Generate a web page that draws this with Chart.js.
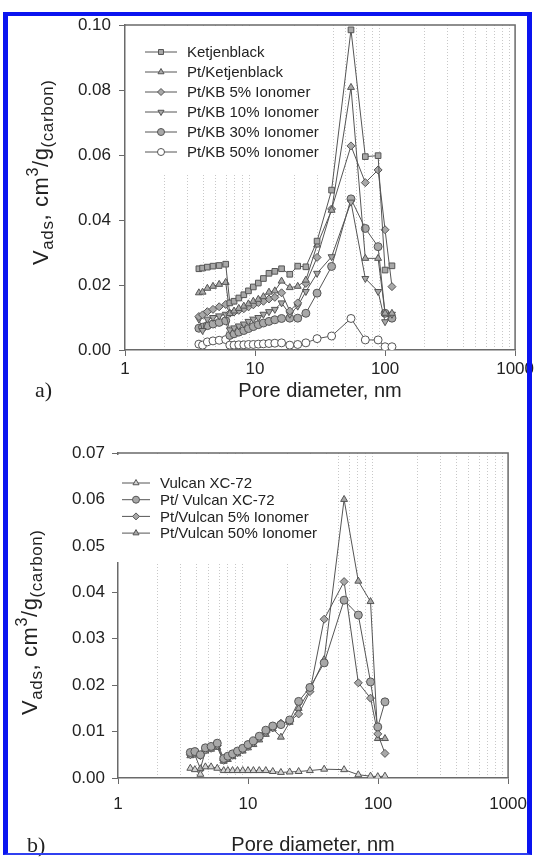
<!DOCTYPE html>
<html>
<head>
<meta charset="utf-8">
<script src="https://cdn.jsdelivr.net/npm/chart.js@4/dist/chart.umd.min.js"></script>
<style>
  html, body { margin: 0; padding: 0; background: #fff; }
  #page { position: relative; width: 537px; height: 857px; overflow: hidden; }
  #frame { position: absolute; left: 3px; top: 12px; width: 529px; height: 843px;
           border-left: 5px solid #0a14f0; border-top: 4px solid #0a14f0;
           border-right: 5px solid #0a14f0; border-bottom: 2px solid #3040f0;
           box-sizing: border-box; pointer-events: none; }
  canvas { position: absolute; left: 0; }
  #ca { top: 0; }
  #cb { top: 420px; }
  .tag { position: absolute; font: 22px "Liberation Serif", "DejaVu Serif", serif; color: #222; }
</style>
</head>
<body>
<div id="page">
  <canvas id="ca" width="537" height="420"></canvas>
  <canvas id="cb" width="537" height="437"></canvas>
  <div class="tag" style="left:35px; top:377px;">a)</div>
  <div class="tag" style="left:27px; top:832px;">b)</div>
  <div id="frame"></div>
</div>
<script>
// ---- chart a) Ketjenblack series ----
const poreA = [3.7, 3.95, 4.3, 4.75, 5.3, 5.95, 6.4, 6.9, 7.5, 8.2, 8.9, 9.7, 10.6, 11.6, 12.8, 14.2, 16.0, 18.5, 21.3, 24.6, 30.0, 38.8, 54.7, 70.5, 88.4, 100, 113];
const ketjen = [0.0250, 0.0252, 0.0255, 0.0258, 0.0260, 0.0264, 0.0145, 0.0150, 0.0160, 0.0170, 0.0182, 0.0194, 0.0206, 0.0220, 0.0236, 0.0242, 0.0250, 0.0233, 0.0258, 0.0256, 0.0335, 0.0492, 0.0985, 0.0595, 0.0598, 0.0246, 0.0259];
const ptKetjen = [0.0176, 0.0178, 0.0190, 0.0196, 0.0202, 0.0208, 0.0112, 0.0120, 0.0128, 0.0135, 0.0142, 0.0150, 0.0156, 0.0164, 0.0178, 0.0182, 0.0212, 0.0192, 0.0196, 0.0215, 0.0323, 0.0430, 0.0808, 0.0282, 0.0282, 0.0113, 0.0113];
const kb5 = [0.0103, 0.0108, 0.0118, 0.0125, 0.0133, 0.0140, 0.0113, 0.0117, 0.0122, 0.0127, 0.0133, 0.0139, 0.0146, 0.0150, 0.0157, 0.0162, 0.0176, 0.0120, 0.0145, 0.0205, 0.0285, 0.0434, 0.0628, 0.0515, 0.0554, 0.0370, 0.0195];
const kb10 = [0.0095, 0.0060, 0.0095, 0.0100, 0.0105, 0.0110, 0.0062, 0.0068, 0.0074, 0.0080, 0.0088, 0.0095, 0.0100, 0.0110, 0.0118, 0.0125, 0.0145, 0.0110, 0.0135, 0.0180, 0.0236, 0.0287, 0.0455, 0.0220, 0.0180, 0.0087, 0.0110];
const kb30 = [0.0067, 0.0070, 0.0075, 0.0080, 0.0085, 0.0090, 0.0045, 0.0050, 0.0055, 0.0060, 0.0066, 0.0072, 0.0078, 0.0083, 0.0088, 0.0093, 0.0097, 0.0098, 0.0098, 0.0113, 0.0175, 0.0257, 0.0465, 0.0374, 0.0318, 0.0113, 0.0098];
const kb50 = [0.0018, 0.0015, 0.0025, 0.0028, 0.0030, 0.0032, 0.0015, 0.0015, 0.0016, 0.0016, 0.0017, 0.0017, 0.0018, 0.0019, 0.0020, 0.0021, 0.0022, 0.0015, 0.0017, 0.0022, 0.0035, 0.0043, 0.0097, 0.0031, 0.0031, 0.0010, 0.0010];

// ---- chart b) Vulcan series ----
const poreB = [3.6, 3.9, 4.3, 4.7, 5.2, 5.8, 6.5, 7.0, 7.6, 8.3, 9.1, 10.0, 11.0, 12.2, 13.7, 15.5, 17.9, 20.9, 24.5, 29.9, 38.5, 54.8, 70.5, 87.5, 99.5, 113];
const vulcan = [0.0021, 0.0018, 0.0008, 0.0024, 0.0024, 0.0021, 0.0016, 0.0016, 0.0016, 0.0016, 0.0016, 0.0016, 0.0016, 0.0016, 0.0016, 0.0014, 0.0012, 0.0013, 0.0014, 0.0016, 0.0019, 0.0018, 0.0007, 0.0004, 0.0003, 0.0004];
const ptVulcan = [0.0055, 0.0057, 0.0050, 0.0065, 0.0068, 0.0075, 0.0042, 0.0047, 0.0052, 0.0058, 0.0064, 0.0072, 0.0080, 0.0090, 0.0103, 0.0112, 0.0115, 0.0125, 0.0165, 0.0195, 0.0248, 0.0383, 0.0351, 0.0207, 0.0110, 0.0164];
const vulcan5 = [0.0050, 0.0053, 0.0048, 0.0060, 0.0064, 0.0070, 0.0038, 0.0043, 0.0049, 0.0055, 0.0061, 0.0068, 0.0076, 0.0086, 0.0098, 0.0108, 0.0118, 0.0122, 0.0138, 0.0186, 0.0342, 0.0423, 0.0205, 0.0172, 0.0095, 0.0053];
const vulcan50 = [0.0048, 0.0050, 0.0020, 0.0058, 0.0062, 0.0066, 0.0036, 0.0040, 0.0046, 0.0052, 0.0058, 0.0065, 0.0072, 0.0082, 0.0094, 0.0106, 0.0088, 0.0120, 0.0150, 0.0190, 0.0255, 0.0600, 0.0424, 0.0380, 0.0085, 0.0085];

const xTicks = [1, 10, 100, 1000];

const FONT = '"Liberation Sans", Arial, Helvetica, sans-serif';
const LINE = "#555";
const AXIS = "#6a6a6a";
const GRIDC = "#c8c8c8";
const GRAY = "#a8a8a8";

function pts(xs, ys) { return xs.map((x, i) => ({ x, y: ys[i] })); }

function series(label, xs, ys, style, fill, rot) {
  return {
    label, data: pts(xs, ys),
    borderColor: LINE, borderWidth: 1, tension: 0,
    pointStyle: style, pointRotation: rot || 0, pointRadius: 4, pointHoverRadius: 4,
    pointBackgroundColor: fill, pointBorderColor: LINE, pointBorderWidth: 1,
    backgroundColor: fill,
  };
}

const isMajor = (v) => xTicks.includes(v);

// white legend box with "—marker—" samples, drawn over the grid
const legendBox = {
  id: "legendBox",
  afterDraw(chart, args, o) {
    const ctx = chart.ctx;
    ctx.save();
    ctx.fillStyle = "#fff";
    ctx.fillRect(o.box[0], o.box[1], o.box[2], o.box[3]);
    ctx.font = o.size + "px " + FONT;
    ctx.textBaseline = "middle";
    chart.data.datasets.forEach((ds, i) => {
      const y = o.y0 + i * o.dy;
      ctx.strokeStyle = LINE; ctx.lineWidth = 1;
      ctx.beginPath(); ctx.moveTo(o.x0, y); ctx.lineTo(o.x0 + o.len, y); ctx.stroke();
      ctx.fillStyle = ds.pointBackgroundColor;
      Chart.helpers.drawPoint(ctx, { pointStyle: ds.pointStyle, rotation: ds.pointRotation, radius: 3.5, borderWidth: 1 }, o.x0 + o.len / 2, y);
      ctx.fillStyle = "#222";
      ctx.fillText(ds.label, o.x0 + o.len + 10, y + 1);
    });
    ctx.restore();
  },
};

// top and right frame lines + rotated y title with sub/superscripts
const frameAndTitle = {
  id: "frameAndTitle",
  beforeDatasetsDraw(chart) {
    const { ctx, chartArea: a } = chart;
    ctx.save();
    ctx.strokeStyle = AXIS; ctx.lineWidth = 1.5;
    ctx.beginPath(); ctx.moveTo(a.left, a.top); ctx.lineTo(a.right, a.top); ctx.lineTo(a.right, a.bottom); ctx.stroke();
    ctx.restore();
  },
  afterDraw(chart, args, o) {
    const ctx = chart.ctx;
    const parts = [["V", 22, 0], ["ads", 17, 5], [", cm", 22, 0], ["3", 16, -10], ["/g", 22, 0], ["(carbon)", 17, 5]];
    ctx.save();
    ctx.translate(o.x, o.y);
    ctx.rotate(-Math.PI / 2);
    ctx.fillStyle = "#222";
    ctx.textBaseline = "alphabetic";
    if ("letterSpacing" in ctx) ctx.letterSpacing = "0.6px";
    let x = 0;
    for (const [t, s, dy] of parts) {
      ctx.font = s + "px " + FONT;
      ctx.fillText(t, x, dy);
      x += ctx.measureText(t).width;
    }
    ctx.restore();
  },
};

function makeChart(canvas, datasets, cfg) {
  return new Chart(canvas, {
    type: "line",
    data: { datasets },
    plugins: [frameAndTitle, legendBox],
    options: {
      responsive: false, animation: false, events: [],
      layout: { padding: { top: cfg.top, right: cfg.right, left: 0, bottom: 0 } },
      plugins: {
        legend: { display: false }, tooltip: { enabled: false },
        legendBox: cfg.legend,
        frameAndTitle: cfg.title,
      },
      scales: {
        x: {
          type: "logarithmic", min: 1, max: 1000,
          afterFit: (s) => { s.height = cfg.xh; },
          afterBuildTicks: (s) => {
            const t = [];
            for (let d = 1; d <= 100; d *= 10) for (let k = 1; k < 10; k++) t.push({ value: d * k });
            t.push({ value: 1000 });
            s.ticks = t;
          },
          ticks: {
            autoSkip: false, maxRotation: 0, color: "#222", padding: cfg.xpad,
            font: { family: FONT, size: 17 },
            callback: (v) => (isMajor(v) ? String(v) : ""),
          },
          grid: {
            drawOnChartArea: true, tickLength: 6, lineWidth: 1,
            color: (c) => (c.tick && isMajor(c.tick.value) ? "rgba(0,0,0,0)" : GRIDC),
            tickColor: (c) => (c.tick && isMajor(c.tick.value) ? AXIS : "rgba(0,0,0,0)"),
          },
          border: { display: true, color: AXIS, width: 1.5, dash: [1, 2] },
          title: { display: true, text: "Pore diameter, nm", color: "#222", font: { family: FONT, size: 20 }, padding: { top: 0, bottom: cfg.tpad } },
        },
        y: {
          min: 0, max: cfg.ymax,
          afterFit: (s) => { s.width = cfg.yw; },
          ticks: {
            stepSize: cfg.ystep, color: "#222", padding: cfg.ypad,
            font: { family: FONT, size: 17 },
            callback: (v) => v.toFixed(2),
          },
          grid: { drawOnChartArea: false, tickLength: 6, tickColor: AXIS },
          border: { display: true, color: AXIS, width: 1.5 },
        },
      },
    },
  });
}

makeChart(document.getElementById("ca"), [
  series("Ketjenblack", poreA, ketjen, "rect", GRAY),
  series("Pt/Ketjenblack", poreA, ptKetjen, "triangle", GRAY),
  series("Pt/KB 5% Ionomer", poreA, kb5, "rectRot", GRAY),
  series("Pt/KB 10% Ionomer", poreA, kb10, "triangle", GRAY, 180),
  series("Pt/KB 30% Ionomer", poreA, kb30, "circle", GRAY),
  series("Pt/KB 50% Ionomer", poreA, kb50, "circle", "#fff"),
], {
  top: 25, right: 19, yw: 125, xh: 70, ymax: 0.10, ystep: 0.02, xpad: 3, ypad: 8, tpad: 17,
  legend: { box: [127, 27, 200, 146], x0: 145, len: 32, y0: 52, dy: 20, size: 15 },
  title: { x: 48, y: 265 },
});

makeChart(document.getElementById("cb"), [
  series("Vulcan XC-72", poreB, vulcan, "triangle", "#d2d2d2"),
  series("Pt/ Vulcan XC-72", poreB, ptVulcan, "circle", GRAY),
  series("Pt/Vulcan 5% Ionomer", poreB, vulcan5, "rectRot", GRAY),
  series("Pt/Vulcan 50% Ionomer", poreB, vulcan50, "triangle", GRAY),
], {
  top: 33, right: 27, yw: 118, xh: 79, ymax: 0.07, ystep: 0.01, xpad: 10, ypad: 7, tpad: 0,
  legend: { box: [108, 35, 222, 107], x0: 122, len: 28, y0: 63, dy: 16.7, size: 15 },
  title: { x: 37, y: 295 },
});
</script>
</body>
</html>
